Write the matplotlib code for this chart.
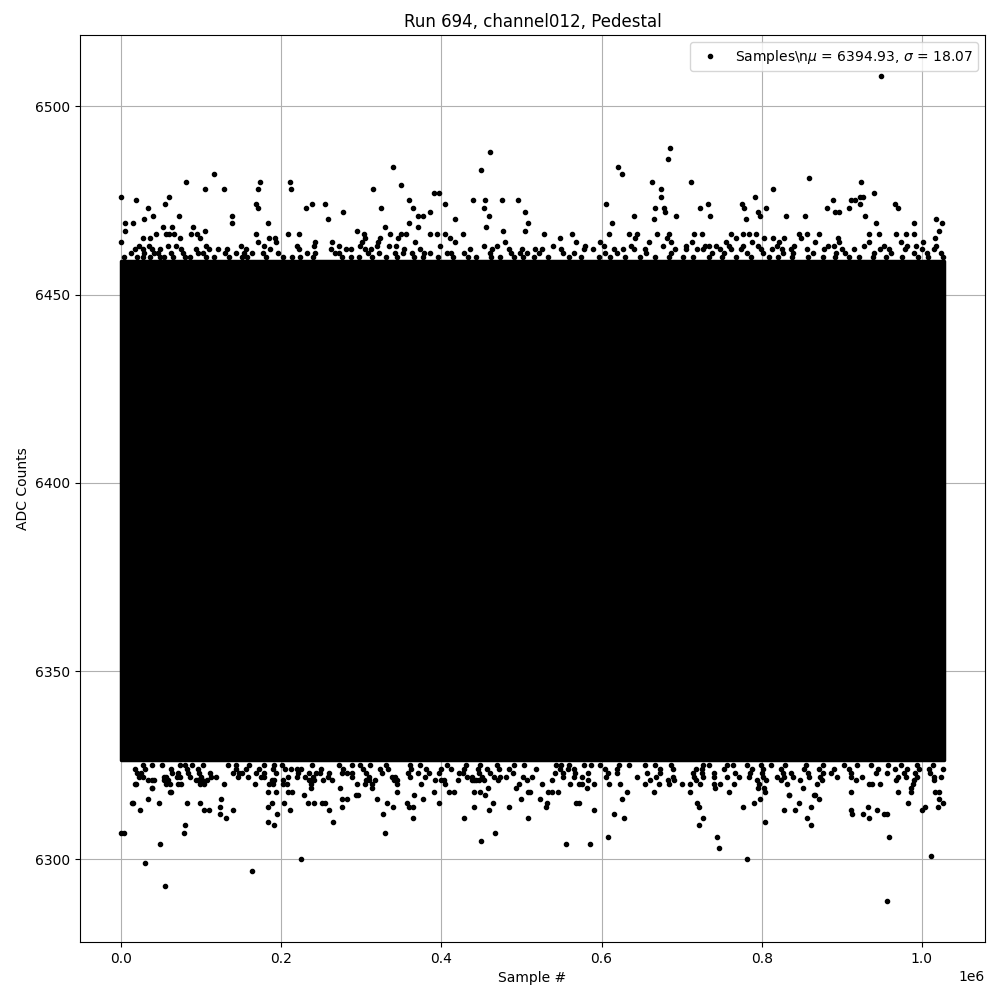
import numpy as np
import matplotlib
matplotlib.use("Agg")
from matplotlib import pyplot as plt

# sample index in thousands, ADC counts
n_samples_k = 1027.5
core_low = 6326.5
core_high = 6459

top_tail_x = [0, 19, 34, 40, 29, 55, 60, 72, 81, 105, 116, 128, 138, 138, 169, 171, 171, 174, 184,
              211, 212, 231, 238, 255, 258, 277, 295, 314, 324, 330, 340, 350, 359, 364, 371, 377,
              386, 391, 397, 360, 371, 405, 417, 439, 449, 461, 455, 453, 460, 456, 476, 496, 505,
              477, 505, 508, 5, 15, 90, 105, 52, 63, 5.4,
              949, 685, 683, 621, 626, 663, 712, 674, 674, 605, 667, 678, 679, 693, 723, 733, 736,
              792, 814, 776, 778, 795, 798, 806, 780, 859, 830, 854, 882, 889, 892, 896, 909, 912,
              916, 924, 923, 926, 923, 940, 929, 967, 970, 943, 990, 1018, 1025, 1022, 641, 665, 613]
top_tail_y = [6476, 6475, 6473, 6471, 6470, 6474, 6476, 6471, 6480, 6478, 6482, 6478, 6471, 6469,
              6474, 6473, 6478, 6480, 6469, 6480, 6478, 6473, 6474, 6474, 6470, 6472, 6467, 6478,
              6473, 6468, 6484, 6479, 6475, 6473, 6471, 6471, 6472, 6477, 6477, 6469, 6468, 6474,
              6470, 6475, 6483, 6488, 6475, 6473, 6471, 6468, 6475, 6475, 6472, 6467, 6467, 6469,
              6469, 6469, 6468, 6467, 6468, 6468, 6467,
              6508, 6489, 6486, 6484, 6482, 6480, 6480, 6478, 6476, 6474, 6473, 6473, 6472, 6471,
              6473, 6474, 6471, 6476, 6478, 6474, 6473, 6472, 6471, 6473, 6470, 6481, 6471, 6471,
              6473, 6475, 6472, 6472, 6473, 6475, 6475, 6480, 6476, 6476, 6474, 6477, 6471, 6474,
              6473, 6469, 6469, 6470, 6469, 6467, 6471, 6470, 6469]

bottom_tail_x = [0, 4, 48, 30, 55, 78, 80, 82, 34, 47, 24, 13, 15, 18, 38, 62, 99, 104, 110, 123,
                 123, 125, 131, 140, 164, 184, 191, 195, 183, 189, 211, 203, 224, 265, 260, 233,
                 241, 251, 255, 276, 276, 282, 319, 327, 330, 332, 340, 357, 360, 364, 365, 377,
                 397, 428, 441, 450, 467, 459, 464, 485, 508, 500,
                 556, 585, 608, 616, 628, 591, 568, 572, 626, 530, 532, 523, 722, 727, 719, 722,
                 744, 747, 782, 777, 790, 804, 798, 828, 842, 847, 856, 862, 862, 834, 866, 872,
                 912, 913, 927, 934, 933, 944, 953, 956, 959, 957, 1012, 983, 1000, 1004, 1020,
                 1026, 1022]
bottom_tail_y = [6307, 6307, 6304, 6299, 6293, 6307, 6309, 6315, 6316, 6315, 6313, 6315, 6315, 6320,
                 6319, 6318, 6315, 6313, 6313, 6314, 6312, 6316, 6311, 6313, 6297, 6310, 6309,
                 6312, 6314, 6315, 6313, 6315, 6300, 6310, 6313, 6315, 6315, 6315, 6315, 6314,
                 6316, 6316, 6316, 6312, 6307, 6315, 6314, 6315, 6314, 6314, 6311, 6316, 6315,
                 6311, 6314, 6305, 6307, 6313, 6315, 6314, 6311, 6316,
                 6304, 6304, 6306, 6312, 6311, 6313, 6315, 6315, 6316, 6314, 6315, 6316, 6309,
                 6311, 6315, 6314, 6306, 6303, 6300, 6314, 6315, 6310, 6316, 6313, 6313, 6315,
                 6311, 6309, 6314, 6317, 6317, 6316, 6313, 6312, 6312, 6311, 6314, 6313, 6312,
                 6312, 6306, 6289, 6301, 6315, 6313, 6314, 6314, 6315, 6316]

# partly filled rows just outside the solid band: (ADC level, sample positions)
upper_fringe = [
    (6466, [44.1, 55.4, 60.3, 66.6, 87.8, 95.3, 168.9, 208.9, 222.6, 303.7, 336.2, 349.9, 356.1,
            386.1, 394.8, 404.8, 427.3, 528.5, 563.4, 609.6, 634.6, 644.6, 669.5, 684.5, 715.7,
            725.7, 761.9, 776.8, 784.3, 793.1, 846.7, 856.7, 871.7, 934.1, 946.6, 967.8, 980.3,
            990.3]),
    (6465, [27.9, 36.6, 74.1, 99.0, 185.1, 192.6, 305.0, 323.7, 346.1, 411.0, 548.5, 642.1, 682.0,
            767.9, 802.8, 814.0, 827.8, 849.0, 895.2, 1016.4]),
    (6464, [0.4, 171.4, 193.9, 242.5, 263.8, 301.2, 321.2, 367.4, 417.3, 479.7, 568.4, 598.4,
            659.5, 687.0, 713.2, 755.6, 788.1, 821.8, 866.7, 896.6, 934.1, 974.0, 1001.5]),
    (6463, [22.9, 35.4, 59.1, 69.1, 106.5, 150.2, 178.9, 220.1, 241.3, 272.5, 298.7, 319.9,
            334.9, 343.6, 398.6, 453.5, 469.7, 539.7, 579.7, 603.4, 637.1, 677.0, 705.7, 729.4,
            734.4, 743.1, 759.4, 776.8, 795.6, 819.3, 840.5, 882.9, 890.4, 927.9, 952.8, 981.5,
            992.8, 1017.7]),
    (6462, [16.7, 26.7, 39.1, 49.1, 75.3, 94.0, 110.3, 121.5, 132.7, 156.4, 186.4, 222.6, 262.5,
            281.2, 287.5, 305.0, 312.4, 353.6, 373.6, 436.0, 463.5, 483.8, 500.9, 517.3, 526.0,
            549.7, 578.4, 589.6, 615.8, 627.1, 640.8, 654.5, 692.0, 705.7, 719.4, 726.9, 748.1,
            761.9, 774.3, 799.3, 813.0, 825.5, 836.7, 856.7, 877.9, 900.4, 915.4, 947.8, 959.0,
            979.0, 1000.2, 1015.2]),
    (6461, [11.7, 29.1, 41.6, 46.6, 62.8, 77.8, 96.5, 102.8, 130.2, 144.0, 154.0, 163.9, 177.7,
            196.4, 232.6, 242.5, 267.5, 272.5, 308.7, 322.4, 342.4, 352.4, 363.6, 378.6, 386.1,
            407.3, 412.3, 428.5, 461.0, 487.2, 498.4, 507.1, 522.2, 552.2, 566.0, 604.6, 619.6,
            655.8, 687.0, 738.2, 753.1, 781.8, 801.8, 826.8, 839.2, 864.2, 893.0, 904.1, 940.3,
            961.5, 990.3, 1006.5, 1024.0]),
    (6460, [3.0, 19.2, 27.9, 36.6, 47.9, 54.1, 65.3, 80.3, 86.6, 106.5, 116.5, 135.2, 151.5,
            157.7, 181.4, 202.6, 213.9, 223.8, 240.1, 276.2, 287.5, 297.5, 313.7, 331.2, 344.9,
            366.1, 377.3, 396.1, 414.8, 433.5, 443.5, 462.2, 473.4, 490.9, 502.1, 516.0, 533.5,
            559.7, 574.7, 597.1, 610.9, 629.6, 648.3, 667.0, 684.5, 702.0, 714.4, 734.4, 750.6,
            768.1, 786.8, 809.3, 820.5, 838.0, 858.0, 876.7, 891.7, 909.1, 921.6, 939.1, 955.3,
            975.3, 995.2, 1007.7, 1026.4]),
]

lower_fringe = [
    (6325, [27.9, 39.1, 51.6, 74.1, 80.3, 89.1, 102.8, 134.0, 144.0, 160.2, 178.9, 191.4, 201.4,
            238.8, 272.5, 288.7, 298.7, 311.2, 331.2, 361.1, 373.6, 407.3, 431.0, 448.5, 469.7,
            490.9, 503.4, 543.5, 549.7, 559.7, 578.4, 587.1, 598.4, 622.1, 634.6, 654.5, 667.0,
            687.0, 726.9, 734.4, 756.9, 764.4, 781.8, 799.3, 811.8, 829.3, 855.5, 876.7, 902.9,
            919.1, 936.6, 957.8, 974.0, 994.0, 1014.0]),
    (6324, [16.7, 30.4, 62.8, 82.8, 96.5, 144.0, 156.4, 172.7, 190.1, 205.1, 212.6, 220.1, 225.1,
            250.0, 277.5, 302.5, 323.7, 333.7, 362.4, 381.1, 399.8, 412.3, 428.5, 446.0, 457.2,
            472.2, 484.7, 518.5, 548.5, 558.4, 565.9, 604.6, 619.6, 673.3, 689.5, 718.2, 725.7,
            753.1, 788.1, 801.8, 824.3, 853.0, 871.7, 890.4, 909.1, 945.3, 966.5, 981.5, 996.5,
            1009.0, 1026.4]),
    (6323, [20.4, 25.4, 64.1, 71.6, 84.1, 97.8, 111.5, 140.2, 147.7, 151.5, 168.9, 178.9, 193.9,
            221.3, 235.1, 243.8, 248.8, 260.0, 276.2, 282.5, 288.7, 306.2, 326.2, 358.6, 371.1,
            384.8, 397.3, 422.3, 427.3, 447.2, 461.0, 489.7, 542.2, 552.2, 567.2, 583.4, 608.4,
            619.6, 657.0, 673.3, 714.4, 725.7, 740.6, 766.9, 785.6, 800.6, 826.8, 836.7, 858.0,
            876.7, 886.7, 911.6, 942.8, 956.6, 978.2, 991.9, 1010.2]),
    (6322, [21.7, 27.9, 52.9, 56.6, 70.3, 74.1, 86.6, 100.3, 112.8, 119.0, 146.5, 159.0, 175.2,
            178.9, 208.9, 220.1, 230.1, 240.1, 258.8, 288.7, 309.9, 338.7, 342.4, 361.1, 379.8,
            432.3, 438.5, 451.0, 466.0, 473.4, 480.9, 502.1, 513.5, 552.2, 565.9, 575.9, 605.9,
            644.6, 668.3, 689.5, 715.7, 726.9, 740.6, 756.9, 771.8, 784.3, 801.8, 819.3, 828.0,
            839.2, 859.2, 872.9, 894.2, 911.6, 925.4, 970.3, 980.3, 994.0, 1015.2, 1023.9]),
    (6321, [34.1, 37.9, 40.4, 52.9, 55.4, 57.9, 94.0, 96.5, 101.5, 107.8, 188.9, 191.4, 202.6,
            235.1, 241.3, 252.5, 263.8, 306.2, 309.9, 317.4, 341.1, 344.9, 392.3, 399.8, 403.5,
            421.0, 438.5, 441.0, 443.5, 447.2, 453.5, 470.9, 507.1, 538.5, 583.4, 660.8, 683.2,
            690.7, 718.2, 794.3, 805.5, 824.3, 848.0, 875.4, 917.9, 967.8, 990.2, 1015.2]),
    (6320, [17.9, 55.4, 61.6, 71.6, 75.3, 99.0, 104.0, 129.0, 167.7, 185.1, 190.1, 202.6, 207.6,
            237.6, 295.0, 305.0, 313.7, 344.9, 374.8, 404.8, 497.1, 526.0, 561.0, 572.2, 575.9,
            590.9, 609.6, 623.3, 654.5, 672.0, 684.5, 700.7, 710.7, 723.2, 740.6, 748.1, 765.6,
            796.8, 831.8, 869.2, 934.1, 937.8, 947.8, 989.0]),
    (6319, [37.9, 237.6, 273.8, 313.7, 458.5, 493.4, 582.2, 741.9, 795.6, 803.0, 851.7, 986.5]),
    (6318, [61.6, 183.9, 193.9, 208.9, 213.9, 344.9, 391.1, 409.8, 416.0, 441.0, 448.5, 508.4,
            511.0, 533.5, 538.5, 546.0, 632.1, 665.8, 710.7, 759.4, 804.3, 911.6, 970.3, 986.5,
            1016.4, 1021.4]),
    (6317, [228.8, 293.7, 296.2, 366.1, 454.7, 834.2, 865.4]),
]

pts_x = list(top_tail_x) + list(bottom_tail_x)
pts_y = list(top_tail_y) + list(bottom_tail_y)
for nivel, xs in upper_fringe + lower_fringe:
    pts_x += xs
    pts_y += [nivel] * len(xs)

pts_x = np.array(pts_x) * 1e3
pts_y = np.array(pts_y)

fig, ax = plt.subplots(figsize=(10, 10), dpi=100)
fig.subplots_adjust(left=0.08, right=0.985, top=0.965, bottom=0.058)

# the bulk of the ~1M samples is a solid black band
ax.fill_between([0, n_samples_k * 1e3], core_low, core_high, color='black', lw=2.5,
                edgecolor='black', zorder=2)
ax.plot(pts_x, pts_y, '.', color='black', zorder=3,
        label=r'Samples\n$\mu$ = 6394.93, $\sigma$ = 18.07')

ax.set_xlim(-0.0514e6, 1.0789e6)
ax.set_ylim(6278.05, 6518.95)
ax.grid(True)
ax.set_axisbelow(True)
ax.set_title('Run 694, channel012, Pedestal')
ax.set_xlabel('Sample #')
ax.set_ylabel('ADC Counts')
ax.legend(loc='upper right')

fig.savefig('out.png')
